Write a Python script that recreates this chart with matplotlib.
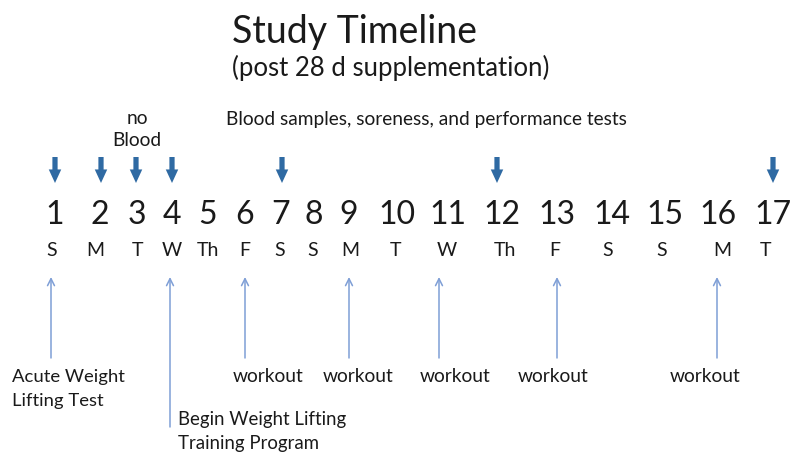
import matplotlib
matplotlib.use("Agg")
import matplotlib.pyplot as plt

plt.rcParams['font.family'] = ['Lato', 'DejaVu Sans']

# ---- data ----
day_numbers = [str(i) for i in range(1, 18)]
day_x = [55, 100, 137, 172, 208, 245, 281, 314, 349, 397, 448, 502, 557, 612, 665, 718, 773]
weekday_labels = ["S", "M", "T", "W", "Th", "F", "S", "S", "M", "T", "W", "Th", "F", "S", "S", "M", "T"]
weekday_x = [52, 95, 137, 172, 208, 245, 280, 313, 350, 395, 447, 505, 555, 608, 662, 722, 765]
blood_days_x = [55, 101, 136, 172, 282, 497, 773]
event_x = [51, 170, 245, 349, 439, 557, 717]
event_bottom = [358, 427, 358, 358, 358, 358, 358]
workout_x = [268, 358, 455, 553, 705]

title = "Study Timeline"
subtitle = "(post 28 d supplementation)"
blood_note = "Blood samples, soreness, and performance tests"

fig = plt.figure(figsize=(7.93, 4.54), dpi=100)
ax = fig.add_axes([0, 0, 1, 1])
ax.set_xlim(0, 793)
ax.set_ylim(454, 0)
ax.axis('off')

txt = '#1a1a1a'
ax.text(232, 32, title, fontsize=27, ha='left', va='center', color=txt)
ax.text(232, 68, subtitle, fontsize=18.5, ha='left', va='center', color=txt)
ax.text(226, 120, blood_note, fontsize=13.8, ha='left', va='center', color=txt)
ax.text(137, 118, "no", fontsize=13.8, ha='center', va='center', color=txt)
ax.text(137, 141, "Blood", fontsize=13.8, ha='center', va='center', color=txt)

for x, lab in zip(day_x, day_numbers):
    ax.text(x, 215, lab, fontsize=23, ha='center', va='center', color=txt)
for x, lab in zip(weekday_x, weekday_labels):
    ax.text(x, 250, lab, fontsize=14, ha='center', va='center', color=txt)

for x in blood_days_x:
    ax.annotate('', xy=(x, 183), xytext=(x, 157),
                arrowprops=dict(arrowstyle='simple,head_length=0.65,head_width=0.6,tail_width=0.25',
                                mutation_scale=15, color='#2f6aa3', shrinkA=0, shrinkB=0, lw=0))

for x, yb in zip(event_x, event_bottom):
    ax.annotate('', xy=(x, 277), xytext=(x, yb),
                arrowprops=dict(arrowstyle='->,head_length=0.5,head_width=0.25',
                                color='#7f9fd6', lw=1.1, shrinkA=0, shrinkB=0))

ax.text(12, 377, "Acute Weight", fontsize=13.3, ha='left', va='center', color=txt)
ax.text(12, 401, "Lifting Test", fontsize=13.3, ha='left', va='center', color=txt)
ax.text(178, 419, "Begin Weight Lifting", fontsize=13.4, ha='left', va='center', color=txt)
ax.text(178, 443, "Training Program", fontsize=13.4, ha='left', va='center', color=txt)
for x in workout_x:
    ax.text(x, 377, "workout", fontsize=13.8, ha='center', va='center', color=txt)

fig.savefig("out.png", dpi=100)
